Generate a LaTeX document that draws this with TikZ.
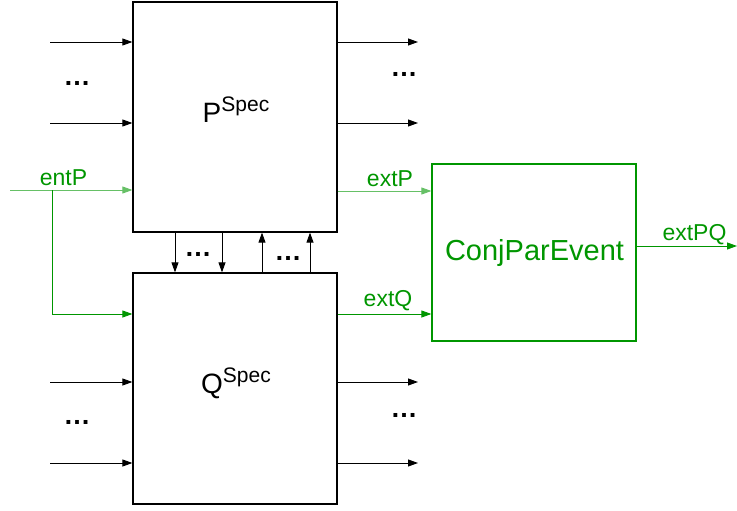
\documentclass[tikz,border=0pt]{standalone}
\usepackage{fontspec}
\setmainfont{Liberation Sans}
\usetikzlibrary{arrows.meta}
\definecolor{grn}{RGB}{0,150,0}
\tikzset{
  blk/.style={draw=black,line width=1.2pt,minimum width=204pt,inner sep=0pt},
  arr/.style={line width=0.9pt,-{Triangle[length=10pt,width=7pt]}},
  garr/.style={arr,draw=grn,color=grn},
  lbl/.style={text=grn,font=\fontsize{23}{23}\selectfont,inner sep=0pt,anchor=base},
  dots/.style={font=\bfseries\fontsize{27}{27}\selectfont,inner sep=0pt,anchor=base}
}
\newcommand{\speclab}[1]{{\fontsize{28}{28}\selectfont #1}\raisebox{11pt}{\fontsize{21}{21}\selectfont Spec}}
\begin{document}
\begin{tikzpicture}[x=1pt,y=-1pt]
\useasboundingbox (0,0) rectangle (737,511);
% boxes
\node[blk,minimum height=230pt] (P) at (235,117) {};
\node[blk,minimum height=231pt] (Q) at (235,388.5) {};
\node[draw=grn,line width=1.2pt,minimum width=204pt,minimum height=177pt,inner sep=0pt] (C) at (534,252.5) {};
\node[inner sep=0pt,anchor=base] (Plab) at (236,122) {\speclab{P}};
\node[inner sep=0pt,anchor=base] (Qlab) at (236,393) {\speclab{Q}};
\node[inner sep=0pt,anchor=base,text=grn,font=\fontsize{29}{29}\selectfont] (Clab) at (534.5,260) {ConjParEvent};
% left inputs of P
\coordinate (pi1) at (50,42);
\coordinate (pi2) at (50,123);
\draw[arr] (pi1) -- (pi1 -| P.west);
\draw[arr] (pi2) -- (pi2 -| P.west);
\node[dots] (d1) at (77,85) {\dots};
% right outputs of P
\coordinate (po1) at (418,42);
\coordinate (po2) at (418,123);
\draw[arr] (po1 -| P.east) -- (po1);
\draw[arr] (po2 -| P.east) -- (po2);
\node[dots] (d2) at (404,77) {\dots};
% left inputs of Q
\coordinate (qi1) at (50,382);
\coordinate (qi2) at (50,463);
\draw[arr] (qi1) -- (qi1 -| Q.west);
\draw[arr] (qi2) -- (qi2 -| Q.west);
\node[dots] (d3) at (77,424) {\dots};
% right outputs of Q
\coordinate (qo1) at (418,382);
\coordinate (qo2) at (418,463);
\draw[arr] (qo1 -| Q.east) -- (qo1);
\draw[arr] (qo2 -| Q.east) -- (qo2);
\node[dots] (d4) at (404,417) {\dots};
% between P and Q
\coordinate (m1) at (175,0);
\coordinate (m2) at (222,0);
\coordinate (m3) at (262,0);
\coordinate (m4) at (310,0);
\draw[arr] (m1 |- P.south) -- (m1 |- Q.north);
\draw[arr] (m2 |- P.south) -- (m2 |- Q.north);
\draw[arr] (m3 |- Q.north) -- (m3 |- P.south);
\draw[arr] (m4 |- Q.north) -- (m4 |- P.south);
\node[dots] (d5) at (198,256) {\dots};
\node[dots] (d6) at (288,260) {\dots};
% green
\coordinate (ein) at (10,190);
\coordinate (br) at (52,190);
\draw[garr,draw=grn!60] (ein) -- (ein -| P.west);
\draw[garr] (br) |- (Q.west |- 0,314);
\node[lbl] (entP) at (63.5,185) {entP};
\draw[garr,draw=grn!60] (P.east |- 0,191) -- (C.west |- 0,191);
\node[lbl] (extP) at (390,186) {extP};
\draw[garr] (Q.east |- 0,314) -- (C.west |- 0,314);
\node[lbl] (extQ) at (388,306) {extQ};
\coordinate (out) at (737,246);
\draw[garr] (C.east |- out) -- (out);
\node[lbl] (extPQ) at (694.5,240) {extPQ};
\end{tikzpicture}
\end{document}
